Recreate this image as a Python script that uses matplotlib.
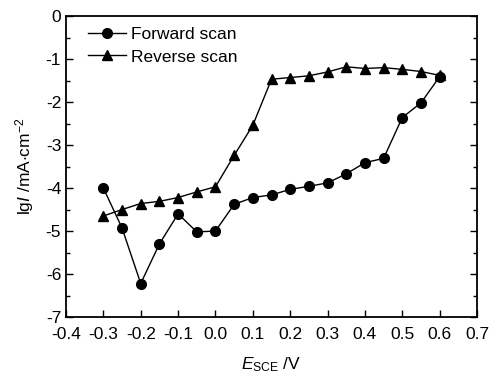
import matplotlib
matplotlib.use("Agg")
import matplotlib.pyplot as plt
from matplotlib.ticker import MultipleLocator

plt.rcParams['font.family'] = ['Liberation Sans', 'DejaVu Sans']
plt.rcParams['mathtext.fontset'] = 'custom'
plt.rcParams['mathtext.rm'] = 'Liberation Sans'
plt.rcParams['mathtext.it'] = 'Liberation Sans:italic'

# potential (V vs SCE)
potential = [-0.30, -0.25, -0.20, -0.15, -0.10, -0.05, 0.00, 0.05, 0.10,
             0.15, 0.20, 0.25, 0.30, 0.35, 0.40, 0.45, 0.50, 0.55, 0.60]
forward_lgI = [-4.00, -4.93, -6.22, -5.30, -4.60, -5.02, -5.00, -4.38, -4.22,
               -4.16, -4.03, -3.96, -3.88, -3.67, -3.41, -3.31, -2.36, -2.02, -1.41]
reverse_lgI = [-4.65, -4.50, -4.36, -4.31, -4.22, -4.09, -3.97, -3.24, -2.54,
               -1.47, -1.43, -1.39, -1.30, -1.18, -1.22, -1.20, -1.24, -1.29, -1.38]

fig = plt.figure(figsize=(4.9, 3.73), dpi=100)
ax = fig.add_axes([0.1347, 0.150, 0.8388, 0.807])

ax.plot(potential, forward_lgI, color='black', lw=1, marker='o', ms=7,
        label='Forward scan')
ax.plot(potential, reverse_lgI, color='black', lw=1, marker='^', ms=7.5,
        label='Reverse scan')

ax.set_xlim(-0.4, 0.7)
ax.set_ylim(-7, 0)
ax.xaxis.set_major_locator(MultipleLocator(0.1))
ax.yaxis.set_major_locator(MultipleLocator(1))
ax.yaxis.set_minor_locator(MultipleLocator(0.5))
ax.xaxis.set_major_formatter(plt.FuncFormatter(lambda v, p: '%.1f' % v))
ax.yaxis.set_major_formatter(plt.FuncFormatter(lambda v, p: '%d' % round(v)))

ax.tick_params(axis='both', which='both', direction='in', labelsize=12.5,
               top=False, right=True, width=1)
ax.tick_params(which='major', length=5)
ax.tick_params(which='minor', length=3)
ax.tick_params(axis='x', which='minor', bottom=False, top=False)
ax.tick_params(axis='x', pad=7)
for s in ax.spines.values():
    s.set_linewidth(1.3)

ax.set_xlabel(r'$\mathit{E}_{\mathrm{SCE}}$ /V', fontsize=12.5, labelpad=10)
ax.set_ylabel(r'lg$\mathit{I}$ /mA$\cdot$cm$^{-2}$', fontsize=12.5, labelpad=7)

ax.legend(loc='upper left', frameon=False, fontsize=12.5, handlelength=2.2,
          handletextpad=0.3, borderaxespad=0.2, labelspacing=0.45,
          bbox_to_anchor=(0.028, 1.0))

fig.savefig('out.png', dpi=100)
